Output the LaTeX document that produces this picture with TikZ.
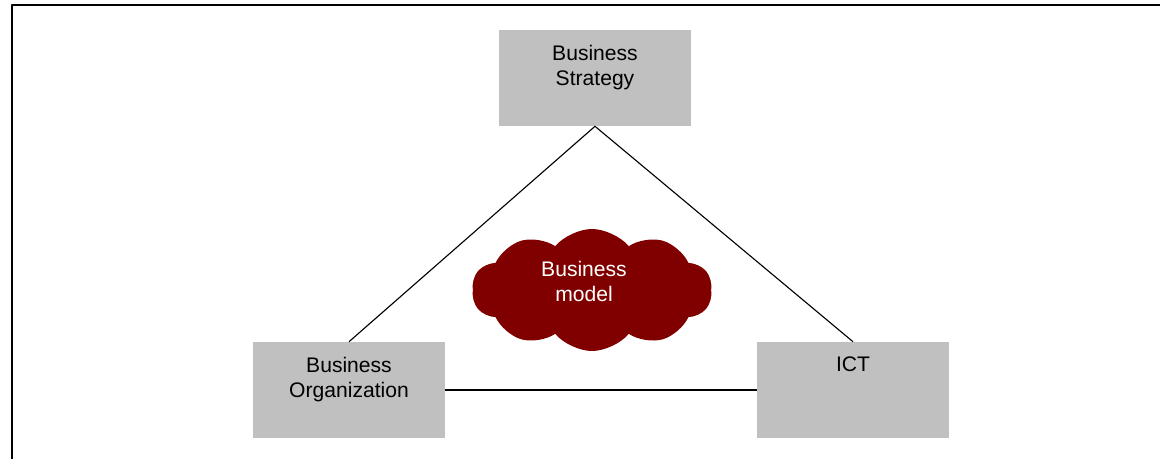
\documentclass[tikz,border=0pt]{standalone}
\usepackage{fontspec}
\setmainfont{Liberation Sans}
\usepackage{tikz}
\usetikzlibrary{positioning}
\usetikzlibrary{shapes.symbols}
\definecolor{boxgray}{RGB}{192,192,192}
\definecolor{clouddark}{RGB}{128,0,0}

\begin{document}
\begin{tikzpicture}[line join=bevel,
        area/.style={rectangle,fill=boxgray,minimum width=4.8cm,minimum height=2.4cm,inner sep=0pt},
        areatext/.style={anchor=north,align=center,inner sep=0pt,yshift=-0.38cm,font=\fontsize{15}{17.8}\selectfont},
        modelcloud/.style={cloud,cloud puffs=10,cloud puff arc=100,aspect=2,fill=clouddark,minimum width=6cm,minimum height=3.05cm,inner sep=0pt}]
        \useasboundingbox (0,0) rectangle (29,11.475);
        % frame
        \coordinate (framebl) at (0.3,0);
        \coordinate (frametl) at (0.3,11.35);
        \coordinate (frametr) at (29,11.35);
        \draw [color=black,line width=1.3pt] (framebl) -- (frametl) -- (frametr);
        %
        \node (strategy) at (14.875,9.525) [area,label={[areatext]north:Business\\Strategy}] {};
        \node (organization) at (8.725,1.725) [area,label={[areatext]north:Business\\Organization}] {};
        \node (ict) at (21.325,1.725) [area,label={[areatext]north:ICT}] {};
        \node (model) at (14.8,4.225) [modelcloud,label={[text=white,align=center,inner sep=0pt,xshift=-0.2cm,yshift=0.22cm,font=\fontsize{15}{17.8}\selectfont]center:Business\\model}] {};
        %
        \draw [color=black,line width=0.8pt] (strategy.south) to (organization.north);
        \draw [color=black,line width=0.8pt] (strategy.south) to (ict.north);
        \draw [color=black,line width=0.8pt] (organization) to (ict);
        %
\end{tikzpicture}
\end{document}
